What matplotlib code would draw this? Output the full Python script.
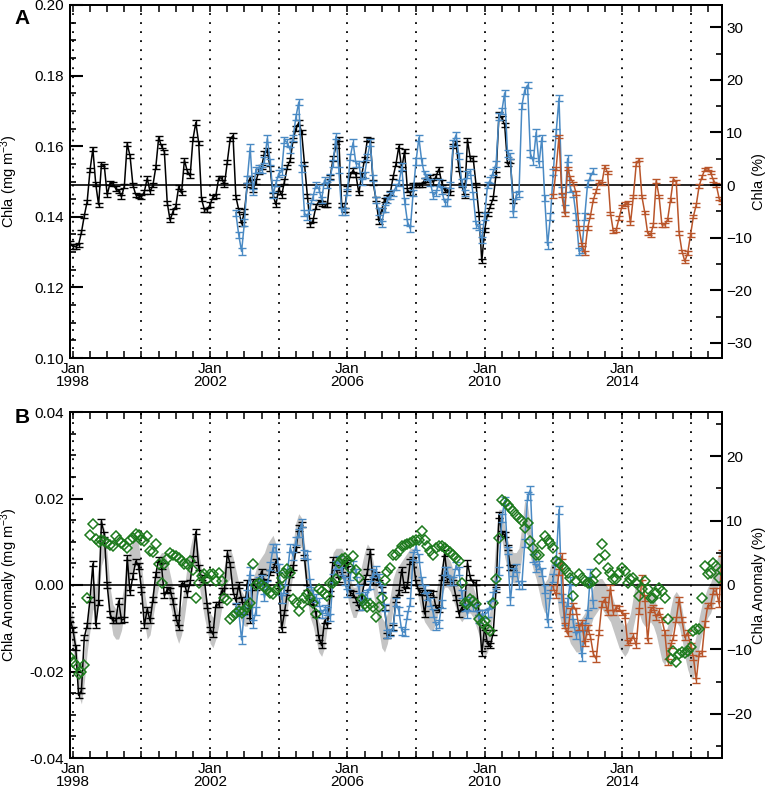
import matplotlib
matplotlib.use('Agg')
import matplotlib.pyplot as plt
import matplotlib.ticker as ticker
import numpy as np

plt.rcParams['font.family'] = ['Liberation Sans', 'DejaVu Sans']
plt.rcParams['mathtext.default'] = 'regular'

# monthly time axis, Dec 1997 .. Dec 2016 (229 months)
n_months = 229
t_start = 1997 + 11 / 12.

# ---- panel A: Chla (mg m-3) ----
black_a_start = 0
black_a = [
    0.1325, 0.1316, 0.1316, 0.1321, 0.1356, 0.1403, 0.1443, 0.1532, 0.1593, 0.1493,
    0.1434, 0.1549, 0.1544, 0.1462, 0.1495, 0.1493, 0.1480, 0.1474, 0.1457, 0.1487,
    0.1607, 0.1572, 0.1490, 0.1462, 0.1459, 0.1457, 0.1471, 0.1509, 0.1471, 0.1490,
    0.1540, 0.1624, 0.1600, 0.1584, 0.1440, 0.1390, 0.1415, 0.1430, 0.1485, 0.1467,
    0.1560, 0.1530, 0.1515, 0.1620, 0.1667, 0.1610, 0.1450, 0.1420, 0.1420, 0.1435,
    0.1457, 0.1460, 0.1510, 0.1510, 0.1490, 0.1556, 0.1620, 0.1630, 0.1457, 0.1420,
    0.1380, 0.1415, 0.1490, 0.1510, 0.1476, 0.1500, 0.1528, 0.1542, 0.1580, 0.1589,
    0.1537, 0.1462, 0.1434, 0.1480, 0.1460, 0.1500, 0.1542, 0.1560, 0.1617, 0.1650,
    0.1667, 0.1640, 0.1550, 0.1460, 0.1377, 0.1390, 0.1429, 0.1443, 0.1438, 0.1434,
    0.1434, 0.1513, 0.1565, 0.1600, 0.1620, 0.1434, 0.1420, 0.1480, 0.1518, 0.1532,
    0.1518, 0.1467, 0.1518, 0.1562, 0.1620, 0.1617, 0.1497, 0.1450, 0.1387, 0.1420,
    0.1448, 0.1457, 0.1467, 0.1513, 0.1550, 0.1600, 0.1535, 0.1587, 0.1475, 0.1468,
    0.1490, 0.1490, 0.1490, 0.1490, 0.1505, 0.1505, 0.1512, 0.1497, 0.1515, 0.1535,
    0.1497, 0.1475, 0.1475, 0.1468, 0.1600, 0.1610, 0.1535, 0.1490, 0.1460, 0.1617,
    0.1565, 0.1565, 0.1490, 0.1408, 0.1274, 0.1363, 0.1408, 0.1430, 0.1453, 0.1520,
    0.1690, 0.1680, 0.1660, 0.1550, 0.1557, 0.1445,
]
blue_a_start = 58
blue_a = [
    0.1410, 0.1349, 0.1302, 0.1384, 0.1506, 0.1596, 0.1470, 0.1532, 0.1537, 0.1532,
    0.1560, 0.1622, 0.1556, 0.1462, 0.1495, 0.1523, 0.1528, 0.1617, 0.1610, 0.1589,
    0.1624, 0.1683, 0.1725, 0.1537, 0.1410, 0.1400, 0.1429, 0.1457, 0.1490, 0.1480,
    0.1448, 0.1504, 0.1490, 0.1513, 0.1551, 0.1628, 0.1532, 0.1415, 0.1415, 0.1470,
    0.1570, 0.1610, 0.1550, 0.1550, 0.1499, 0.1518, 0.1570, 0.1610, 0.1510, 0.1448,
    0.1415, 0.1380, 0.1424, 0.1448, 0.1460, 0.1467, 0.1485, 0.1495,
    0.1542, 0.1445, 0.1386, 0.1366, 0.1468, 0.1557, 0.1624, 0.1557, 0.1520, 0.1512,
    0.1497, 0.1460, 0.1468, 0.1497, 0.1475, 0.1441, 0.1441, 0.1490, 0.1609, 0.1632,
    0.1572, 0.1497, 0.1468, 0.1520, 0.1527, 0.1460, 0.1378, 0.1371, 0.1334, 0.1401,
    0.1490, 0.1505, 0.1527, 0.1550, 0.1684, 0.1699, 0.1751, 0.1579, 0.1572, 0.1408,
    0.1460, 0.1465, 0.1714, 0.1758, 0.1773, 0.1579, 0.1557, 0.1639, 0.1550, 0.1624,
    0.1453, 0.1319, 0.1401, 0.1527, 0.1639, 0.1736,
    0.1475, 0.1424, 0.1565, 0.1480, 0.1465, 0.1401, 0.1302, 0.1307, 0.1401, 0.1494,
    0.1514, 0.1529,
]
orange_a_start = 169
orange_a = [
    0.1459, 0.1537, 0.1628, 0.1462, 0.1408, 0.1537, 0.1510, 0.1495, 0.1467, 0.1368,
    0.1321, 0.1297, 0.1368, 0.1403, 0.1448, 0.1473, 0.1500, 0.1495, 0.1542, 0.1525,
    0.1410, 0.1359, 0.1363, 0.1396, 0.1429, 0.1436, 0.1440, 0.1382, 0.1457, 0.1549,
    0.1562, 0.1457, 0.1412, 0.1354, 0.1349, 0.1377, 0.1502, 0.1457, 0.1377, 0.1377,
    0.1393, 0.1448, 0.1507, 0.1499, 0.1354, 0.1302, 0.1274, 0.1297, 0.1349, 0.1401,
    0.1434, 0.1487, 0.1513, 0.1534, 0.1537, 0.1525, 0.1504, 0.1490, 0.1452, 0.1440,
]
chla_mean = 0.149
err_black_a = 0.0006
err_blue_a = 0.0009
err_orange_a = 0.0005

# ---- panel B: Chla anomaly (mg m-3) ----
black_b_start = 0
black_b = [
    -0.0079, -0.0102, -0.0144, -0.0255, -0.0244, -0.0121, -0.0093, -0.0033, 0.0049, -0.0094,
    -0.0041, 0.0147, 0.0117, 0.0000, -0.0067, -0.0083, -0.0083, -0.0037, -0.0081, -0.0079,
    0.0064, -0.0018, 0.0021, 0.0055, 0.0044, -0.0010, -0.0094, -0.0056, -0.0083, -0.0033,
    0.0025, 0.0059, 0.0044, -0.0025, -0.0010, -0.0012, -0.0037, -0.0075, -0.0098, 0.0003,
    0.0003, -0.0021, 0.0005, 0.0060, 0.0123, 0.0040, 0.0017, 0.0013, -0.0048, -0.0102,
    -0.0114, -0.0046, -0.0046, -0.0014, -0.0014, 0.0074, 0.0048, -0.0014, -0.0037, 0.0000,
    -0.0033, -0.0060, 0.0005, -0.0083, 0.0009, -0.0006, 0.0009, 0.0032, 0.0009, 0.0005,
    0.0028, 0.0036, 0.0055, 0.0000, -0.0102, -0.0064, -0.0018, 0.0025, 0.0040, 0.0082,
    0.0132, 0.0140, 0.0063, -0.0006, -0.0037, -0.0041, -0.0067, -0.0121, -0.0140, -0.0083,
    -0.0094, -0.0020, 0.0059, 0.0040, 0.0013, 0.0025, 0.0048, 0.0051, -0.0018, -0.0021,
    -0.0033, -0.0052, -0.0029, 0.0009, 0.0030, 0.0078, 0.0009, 0.0025, 0.0005, -0.0010,
    -0.0052, -0.0117, -0.0110, -0.0098, -0.0033, -0.0018, 0.0036, -0.0010, 0.0000, 0.0055,
    0.0059, 0.0005, -0.0014, -0.0018, -0.0067, -0.0018, -0.0018, -0.0021, -0.0052, -0.0056,
    0.0017, 0.0074, 0.0013, 0.0013, 0.0005, -0.0029, -0.0067, -0.0052, -0.0050, 0.0051,
    0.0017, 0.0005, 0.0005, -0.0064, -0.0159, -0.0098, -0.0136, -0.0140, -0.0110, -0.0010,
    0.0162, 0.0120, 0.0116, 0.0086, 0.0040, 0.0040,
]
blue_b_start = 58
blue_b = [
    -0.0050, -0.0060, -0.0127, -0.0060, -0.0020, 0.0032, -0.0090, -0.0060, 0.0009, 0.0013,
    -0.0029, 0.0000, 0.0044, 0.0086, 0.0086, 0.0040, -0.0033, -0.0010, 0.0028, 0.0086,
    0.0067, 0.0101, 0.0120, 0.0143, 0.0072, 0.0070, 0.0005, -0.0021, -0.0030, -0.0040,
    -0.0067, -0.0056, -0.0060, -0.0075, 0.0017, 0.0047, 0.0059, 0.0032, 0.0009, -0.0018,
    0.0021, 0.0047, 0.0028, -0.0010, -0.0048, -0.0025, -0.0021, 0.0000, 0.0028, 0.0034,
    0.0017, -0.0010, -0.0052, -0.0113, -0.0110, -0.0098,
    -0.0040, -0.0060, -0.0106, -0.0110, -0.0070, -0.0040, 0.0067, 0.0090, 0.0063, 0.0009,
    -0.0010, -0.0025, -0.0040, -0.0064, -0.0094, -0.0090, -0.0044, 0.0032, 0.0032, 0.0009,
    0.0009, 0.0045, 0.0032, -0.0021, -0.0052, -0.0067, -0.0037, -0.0052, -0.0052, -0.0079,
    -0.0067, -0.0067, -0.0064, -0.0045, -0.0025, 0.0000, 0.0032, 0.0155, 0.0195, 0.0080,
    -0.0037, 0.0030, 0.0040, 0.0000, 0.0000, 0.0097, 0.0205, 0.0220, 0.0063, 0.0040,
    0.0047, 0.0030, -0.0010, -0.0087, -0.0021, 0.0017, 0.0055, 0.0174, -0.0030, -0.0083,
    -0.0040, 0.0010, -0.0087, -0.0117, -0.0098, -0.0167, -0.0098, -0.0067, 0.0028, -0.0044,
]
orange_b_start = 169
orange_b = [
    -0.0006, -0.0025, 0.0030, 0.0067, -0.0094, -0.0113, -0.0060, -0.0048, -0.0060, -0.0098,
    -0.0087, -0.0136, -0.0098, -0.0120, -0.0159, -0.0171, -0.0110, -0.0044, -0.0033, -0.0064,
    -0.0006, -0.0064, -0.0052, -0.0055, -0.0064, -0.0070, -0.0133, -0.0129, -0.0117, -0.0140,
    -0.0060, 0.0017, -0.0030, -0.0129, -0.0056, -0.0052, -0.0075, -0.0060, -0.0080, -0.0110,
    -0.0178, -0.0140, -0.0121, -0.0080, -0.0033, -0.0080, -0.0121, -0.0110, -0.0140, -0.0167,
    -0.0220, -0.0159, -0.0159, -0.0090, -0.0048, -0.0048, -0.0014, -0.0014, -0.0044, 0.0074,
]
band_mid = [
    -0.008, -0.011, -0.016, -0.022, -0.024, -0.019, -0.012, -0.007, -0.002, -0.004, 0.001, 0.008,
    0.010, 0.004, -0.004, -0.008, -0.009, -0.009, -0.007, -0.003, 0.002, 0.005, 0.007, 0.008,
    0.006, 0.001, -0.005, -0.009, -0.008, -0.004, 0.000, 0.003, 0.004, 0.004, 0.002, -0.001,
    -0.004, -0.008, -0.010, -0.008, -0.004, 0.001, 0.005, 0.008, 0.008, 0.004, 0.000, -0.004,
    -0.007, -0.010, -0.011, -0.009, -0.006, -0.002, 0.001, 0.004, 0.005, 0.003, 0.000, -0.003,
    -0.005, -0.006, -0.006, -0.004, -0.002, 0.000, 0.002, 0.003, 0.004, 0.006, 0.007, 0.008,
    0.006, 0.000, -0.006, -0.006, -0.002, 0.002, 0.006, 0.011, 0.013, 0.012, 0.006, 0.000,
    -0.004, -0.006, -0.009, -0.012, -0.013, -0.011, -0.006, 0.000, 0.004, 0.005, 0.005, 0.005,
    0.004, 0.001, -0.002, -0.004, -0.004, -0.002, 0.001, 0.004, 0.006, 0.005, 0.002, -0.002,
    -0.007, -0.011, -0.012, -0.010, -0.006, -0.002, 0.000, 0.001, 0.002, 0.003, 0.004, 0.005,
    0.005, 0.003, 0.000, -0.003, -0.005, -0.006, -0.007, -0.007, -0.005, -0.002, 0.001, 0.003,
    0.003, 0.002, 0.000, -0.002, -0.004, -0.005, -0.004, -0.003, -0.003, -0.004, -0.006, -0.008,
    -0.011, -0.013, -0.012, -0.009, -0.002, 0.008, 0.014, 0.014, 0.010, 0.007, 0.005, 0.004,
    0.004, 0.005, 0.010, 0.016, 0.015, 0.010, 0.007, 0.005, 0.002, -0.001, -0.003, -0.002,
    0.001, 0.003, 0.002, -0.003, -0.006, -0.007, -0.008, -0.010, -0.011, -0.012, -0.012, -0.011,
    -0.010, -0.008, -0.006, -0.004, -0.003, -0.002, -0.002, -0.003, -0.004, -0.005, -0.007, -0.009,
    -0.011, -0.012, -0.013, -0.012, -0.010, -0.006, -0.003, -0.003, -0.005, -0.006, -0.006, -0.005,
    -0.006, -0.008, -0.011, -0.014, -0.015, -0.013, -0.009, -0.006, -0.005, -0.006, -0.009, -0.013,
    -0.016, -0.018, -0.018, -0.015, -0.011, -0.008, -0.006, -0.004, -0.003, -0.001, 0.002, 0.004, 0.005,
]
band_half = 0.0035
green = [
    -0.0166, -0.0179, -0.0186, -0.0205, -0.0202, -0.0186, -0.0031, 0.0115, 0.0141, 0.0107, 0.0100, 0.0103,
    0.0101, 0.0097, 0.0093, 0.0090, 0.0113, 0.0103, 0.0097, 0.0093, 0.0086, 0.0103, 0.0109, 0.0117,
    0.0115, 0.0103, 0.0101, 0.0113, 0.0078, 0.0077, 0.0094, 0.0049, 0.0005, 0.0048, 0.0060, 0.0074,
    0.0069, 0.0067, 0.0063, 0.0055, 0.0049, 0.0048, 0.0055, 0.0035, -0.0029, 0.0005, 0.0021, 0.0025,
    0.0013, 0.0025, 0.0025, 0.0010, 0.0028, 0.0009, -0.0029, -0.0035, -0.0079, -0.0071, -0.0064, -0.0060,
    -0.0064, -0.0060, -0.0052, -0.0041, 0.0048, 0.0000, 0.0005, 0.0000, -0.0005, -0.0010, -0.0018, -0.0021,
    -0.0012, -0.0005, 0.0017, 0.0028, 0.0036, 0.0028, -0.0033, -0.0041, -0.0060, -0.0043, -0.0029, -0.0021,
    -0.0029, -0.0041, -0.0067, -0.0010, -0.0014, -0.0021, -0.0025, 0.0005, 0.0005, 0.0013, 0.0051, 0.0059,
    0.0063, 0.0055, 0.0040, 0.0067, 0.0034, 0.0017, -0.0033, -0.0044, -0.0051, -0.0044, -0.0050, -0.0075,
    -0.0050, -0.0029, 0.0012, 0.0030, 0.0040, 0.0070, 0.0070, 0.0078, 0.0090, 0.0092, 0.0095, 0.0097,
    0.0101, 0.0103, 0.0105, 0.0124, 0.0105, 0.0090, 0.0078, 0.0070, 0.0086, 0.0090, 0.0090, 0.0086,
    0.0082, 0.0076, 0.0070, 0.0063, 0.0055, 0.0005, -0.0041, -0.0044, -0.0033, -0.0037, -0.0044, -0.0079,
    -0.0087, -0.0083, -0.0102, -0.0106, -0.0041, 0.0013, 0.0109, 0.0197, 0.0193, 0.0186, 0.0178, 0.0170,
    0.0163, 0.0155, 0.0147, 0.0132, 0.0143, 0.0101, 0.0086, 0.0070, 0.0070, 0.0094, 0.0113, 0.0105,
    0.0097, 0.0086, 0.0055, 0.0051, 0.0044, 0.0036, 0.0028, 0.0017, -0.0025, 0.0009, 0.0025, 0.0017,
    0.0009, 0.0005, 0.0005, 0.0009, 0.0028, 0.0059, 0.0094, 0.0070, 0.0040, 0.0028, 0.0013, 0.0013,
    0.0028, 0.0040, 0.0032, 0.0005, 0.0013, 0.0017, 0.0005, -0.0025, -0.0010, 0.0009, -0.0010, -0.0029,
    -0.0029, -0.0018, -0.0006, -0.0014, -0.0029, -0.0079, -0.0171, -0.0152, -0.0179, -0.0160, -0.0156, -0.0158,
    -0.0152, -0.0144, -0.0106, -0.0102, -0.0102, -0.0029, 0.0044, 0.0025, 0.0028, 0.0051, 0.0044, 0.0017, 0.0035,
]
err_black_b = 0.0006
err_blue_b = 0.0009
err_orange_b = 0.0006

label_years = [1998, 2002, 2006, 2010, 2014]
grid_years = list(range(1998, 2017, 2))

c_black = 'black'
c_blue = '#4a8ac4'
c_orange = '#b9552a'
c_green = '#1d7a1d'
c_band = '#c4c4c4'

months = t_start + np.arange(n_months) / 12.


def tx(start, vals):
    return months[start:start + len(vals)]


def style_axes(ax, ymaj, ymin):
    ax.set_xlim(months[0], months[-1])
    ax.xaxis.set_major_locator(ticker.FixedLocator(label_years))
    ax.xaxis.set_minor_locator(ticker.MultipleLocator(0.5))
    ax.set_xticklabels(['Jan\n%d' % y for y in label_years], linespacing=0.85)
    ax.yaxis.set_major_locator(ticker.MultipleLocator(ymaj))
    ax.yaxis.set_minor_locator(ticker.MultipleLocator(ymin))
    ax.tick_params(axis='x', which='both', direction='in', top=True, bottom=True,
                   length=5, width=1.1, labelsize=11, pad=3)
    ax.tick_params(axis='y', which='major', direction='in', left=True, right=False,
                   length=9, width=1.5, labelsize=11, pad=4)
    ax.tick_params(axis='y', which='minor', direction='in', left=True, right=False,
                   length=4.5, width=1.2)
    for s in ax.spines.values():
        s.set_linewidth(1.4)
    for y in grid_years:
        ax.axvline(y, color='black', lw=1.3, ls=(0, (1.0, 4.0)), zorder=1.5)


def style_right(ax2, lo, hi):
    ax2.set_ylim(lo, hi)
    ax2.yaxis.set_major_locator(ticker.MultipleLocator(10))
    ax2.yaxis.set_minor_locator(ticker.MultipleLocator(5))
    ax2.tick_params(axis='y', which='major', direction='in', right=True, left=False,
                    length=9, width=1.5, labelsize=11, pad=3)
    ax2.tick_params(axis='y', which='minor', direction='in', right=True, left=False,
                    length=4.5, width=1.2)
    for s in ax2.spines.values():
        s.set_linewidth(1.4)


fig = plt.figure(figsize=(7.68, 7.91), dpi=100)
W, H = 768., 791.

eb = dict(lw=1.1, elinewidth=1.0, capsize=2.6, capthick=1.0)

# panel A
axa = fig.add_axes([70 / W, 1 - 358 / H, 652 / W, 353 / H])
axa.set_ylim(0.10, 0.20)
axa.axhline(chla_mean, color='black', lw=1.2, zorder=2)
axa.errorbar(tx(black_a_start, black_a), black_a, yerr=err_black_a, color=c_black, zorder=3, **eb)
axa.errorbar(tx(blue_a_start, blue_a), blue_a, yerr=err_blue_a, color=c_blue, zorder=4, **eb)
axa.errorbar(tx(orange_a_start, orange_a), orange_a, yerr=err_orange_a, color=c_orange, zorder=5, **eb)
style_axes(axa, 0.02, 0.005)
axa.yaxis.set_major_formatter(ticker.FormatStrFormatter('%.2f'))
axa.set_ylabel('Chla (mg m$^{-3}$)', fontsize=10.5)
axa.yaxis.set_label_coords(-0.076, 0.5)
ra = axa.twinx()
style_right(ra, (0.10 / chla_mean - 1) * 100, (0.20 / chla_mean - 1) * 100)
ra.set_ylabel('Chla (%)', fontsize=10.5)
ra.yaxis.set_label_coords(1.046, 0.5)

# panel B
axb = fig.add_axes([70 / W, 1 - 758 / H, 652 / W, 346 / H])
axb.set_ylim(-0.04, 0.04)
axb.fill_between(months, np.array(band_mid) - band_half, np.array(band_mid) + band_half,
                 color=c_band, lw=0, zorder=1)
axb.axhline(0.0, color='black', lw=1.2, zorder=2)
axb.errorbar(tx(black_b_start, black_b), black_b, yerr=err_black_b, color=c_black, zorder=3, **eb)
axb.errorbar(tx(blue_b_start, blue_b), blue_b, yerr=err_blue_b, color=c_blue, zorder=4, **eb)
axb.errorbar(tx(orange_b_start, orange_b), orange_b, yerr=err_orange_b, color=c_orange, zorder=5, **eb)
axb.plot(months, green, ls='none', marker='D', ms=5.5, mfc='none', mec=c_green, mew=1.1, zorder=6)
style_axes(axb, 0.02, 0.005)
axb.yaxis.set_major_formatter(ticker.FormatStrFormatter('%.2f'))
axb.set_ylabel('Chla Anomaly (mg m$^{-3}$)', fontsize=10.5)
axb.yaxis.set_label_coords(-0.076, 0.5)
rb = axb.twinx()
lim = 0.04 / chla_mean * 100
style_right(rb, -lim, lim)
rb.set_ylabel('Chla Anomaly (%)', fontsize=10.5)
rb.yaxis.set_label_coords(1.046, 0.5)

fig.text(22 / W, 1 - 18 / H, 'A', fontsize=15, fontweight='bold', ha='center', va='center')
fig.text(22 / W, 1 - 418 / H, 'B', fontsize=15, fontweight='bold', ha='center', va='center')

fig.savefig('out.png', dpi=100)
